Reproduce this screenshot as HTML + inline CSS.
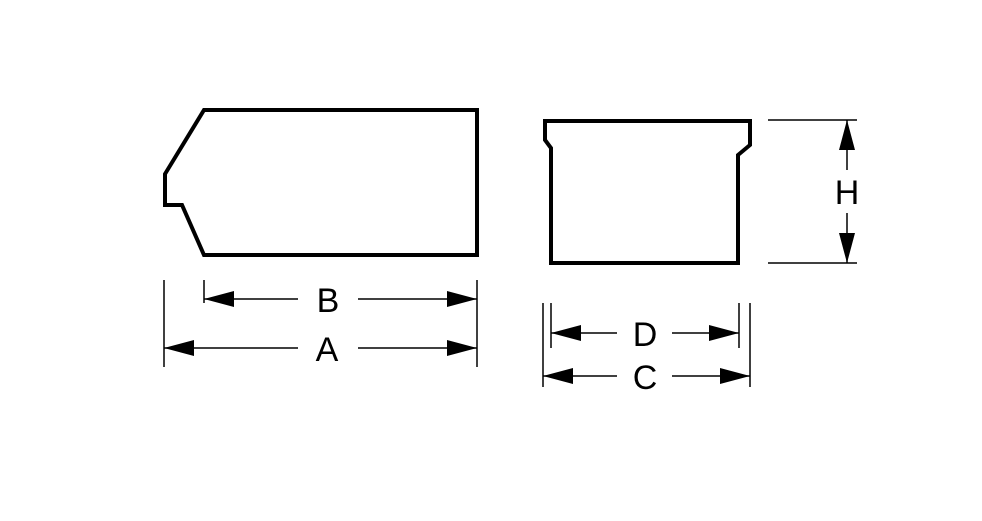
<!DOCTYPE html>
<html><head><style>html,body{margin:0;padding:0;background:#fff;}svg{display:block}</style></head>
<body>
<svg width="982" height="521" viewBox="0 0 982 521" xmlns="http://www.w3.org/2000/svg">
<g fill="none" stroke="#000" stroke-width="4" stroke-linejoin="miter">
<polygon points="204,110 477,110 477,255 204,255 182,205 165,205 165,174"/>
<polygon points="545,121 750,121 750,145 738,155 738,263 551,263 551,148 545,140"/>
</g>
<g stroke="#000" stroke-width="1.5">
<line x1="164" y1="280" x2="164" y2="367"/>
<line x1="477" y1="280" x2="477" y2="367"/>
<line x1="204" y1="280" x2="204" y2="303"/>
<line x1="204" y1="299" x2="298" y2="299"/><line x1="358" y1="299" x2="477" y2="299"/>
<line x1="164" y1="348" x2="298" y2="348"/><line x1="358" y1="348" x2="477" y2="348"/>
<line x1="543" y1="303" x2="543" y2="387"/>
<line x1="750" y1="303" x2="750" y2="387"/>
<line x1="551" y1="303" x2="551" y2="348"/>
<line x1="739" y1="303" x2="739" y2="348"/>
<line x1="551" y1="333" x2="617" y2="333"/><line x1="672" y1="333" x2="739" y2="333"/>
<line x1="543" y1="376" x2="617" y2="376"/><line x1="672" y1="376" x2="750" y2="376"/>
<line x1="768" y1="120" x2="857" y2="120"/>
<line x1="768" y1="263" x2="857" y2="263"/>
<line x1="847" y1="120" x2="847" y2="170"/><line x1="847" y1="213" x2="847" y2="263"/>
</g>
<g fill="#000">
<polygon points="204,299 234,291 234,307"/><polygon points="477,299 447,291 447,307"/>
<polygon points="164,348 194,340 194,356"/><polygon points="477,348 447,340 447,356"/>
<polygon points="551,333 581,325 581,341"/><polygon points="739,333 709,325 709,341"/>
<polygon points="543,376 573,368 573,384"/><polygon points="750,376 720,368 720,384"/>
<polygon points="847,120 839,150 855,150"/><polygon points="847,263 839,233 855,233"/>
</g>
<g font-family="Liberation Sans, sans-serif" font-size="34" text-anchor="middle" fill="#000">
<text x="328" y="312">B</text>
<text x="327" y="361">A</text>
<text x="645" y="346">D</text>
<text x="645" y="389">C</text>
<text x="847" y="204">H</text>
</g>
</svg>
</body></html>
